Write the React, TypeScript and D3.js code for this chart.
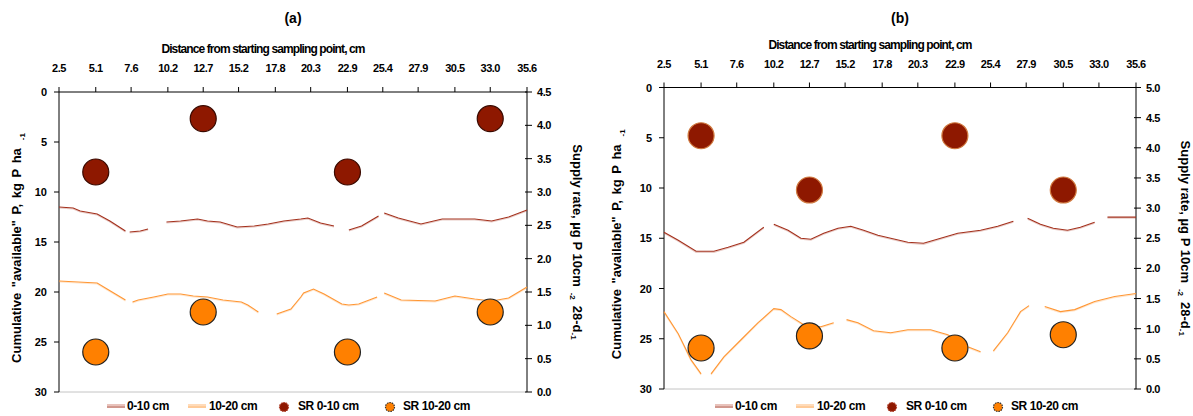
import React from 'react';
import * as d3 from 'd3';

// ---------- shared axis labels ----------
const xTickLabels = ['2.5', '5.1', '7.6', '10.2', '12.7', '15.2', '17.8', '20.3', '22.9', '25.4', '27.9', '30.5', '33.0', '35.6'];
const leftTicks = [0, 5, 10, 15, 20, 25, 30];
const rightTicksA = [0, 0.5, 1, 1.5, 2, 2.5, 3, 3.5, 4, 4.5];
const rightTicksB = [0, 0.5, 1, 1.5, 2, 2.5, 3, 3.5, 4, 4.5, 5];
const legendLabels = ['0-10 cm', '10-20 cm', 'SR 0-10 cm', 'SR 10-20 cm'];

// ---------- panel (a) ----------
const aDist010 = [2.5, 3.5, 4.0, 5.2, 6.1, 7.2, 7.35, 7.5, 8.25, 8.8, 9.5, 10.1, 11.1, 12.3, 13.0, 13.9, 15.1, 16.3, 17.3, 18.4, 19.6, 20.1, 21.0, 21.95, 22.5, 23.0, 23.9, 25.1, 25.3, 25.5, 26.5, 28.1, 29.6, 31.9, 33.1, 34.3, 35.6];
const aCum010 = [11.5, 11.6, 11.9, 12.2, 12.9, 13.9, null, 14.0, 13.9, 13.7, null, 13.0, 12.9, 12.7, 12.9, 13.0, 13.5, 13.4, 13.2, 12.9, 12.7, 12.6, 13.1, 13.4, null, 13.8, 13.4, 12.4, null, 12.1, 12.6, 13.2, 12.7, 12.7, 12.9, 12.5, 11.8];
const aDist1020 = [2.5, 5.2, 5.9, 7.2, 7.45, 7.7, 8.1, 9.2, 10.2, 11.1, 12.0, 13.0, 14.1, 15.4, 15.85, 16.6, 17.2, 17.9, 18.9, 19.6, 19.8, 20.5, 21.25, 22.5, 23.0, 23.7, 25.0, 25.25, 25.5, 26.7, 29.1, 30.5, 31.9, 33.1, 34.3, 35.6];
const aCum1020 = [18.9, 19.1, 19.7, 20.8, null, 21.0, 20.8, 20.5, 20.2, 20.2, 20.4, 20.5, 20.8, 21.0, 21.3, 22.0, null, 22.2, 21.7, 20.5, 20.1, 19.7, 20.2, 21.2, 21.3, 21.2, 20.5, null, 20.1, 20.8, 20.9, 20.4, 20.7, 20.9, 20.6, 19.5];
const aSRDist = [5.1, 12.7, 22.9, 33.0];
const aSR010 = [3.3, 4.1, 3.3, 4.1];
const aSR1020 = [0.6, 1.2, 0.6, 1.2];

// ---------- panel (b) ----------
const bDist010 = [2.5, 3.5, 4.75, 6.0, 7.0, 8.1, 9.5, 9.8, 10.2, 11.2, 12.1, 12.8, 13.7, 14.7, 15.6, 16.5, 17.5, 18.4, 19.6, 20.7, 21.9, 23.1, 24.7, 25.9, 27.0, 27.5, 28.0, 28.9, 29.8, 30.8, 31.7, 32.7, 33.1, 33.6, 35.6];
const bCum010 = [14.4, 15.2, 16.3, 16.3, 15.9, 15.4, 13.9, null, 13.6, 14.2, 15.0, 15.1, 14.5, 14.0, 13.8, 14.2, 14.7, 15.0, 15.4, 15.5, 15.0, 14.5, 14.2, 13.8, 13.3, null, 13.0, 13.6, 14.0, 14.2, 13.9, 13.4, null, 12.9, 12.9];
const bDist1020 = [2.5, 3.5, 4.4, 5.1, 5.4, 5.8, 6.7, 7.9, 9.1, 10.2, 10.7, 11.4, 12.3, 13.5, 14.4, 14.8, 15.3, 16.1, 17.2, 18.4, 19.6, 21.2, 22.4, 23.8, 24.7, 25.1, 25.6, 26.6, 27.5, 28.1, 28.6, 29.2, 30.3, 31.3, 32.7, 34.1, 35.6];
const bCum1020 = [22.3, 24.5, 27.1, 28.5, null, 28.5, 26.8, 25.1, 23.4, 22.0, 22.1, 22.8, 23.6, 23.8, 23.4, null, 23.1, 23.4, 24.2, 24.4, 24.1, 24.1, 24.6, 25.8, 26.3, null, 26.2, 24.4, 22.3, 21.7, null, 21.8, 22.3, 22.1, 21.3, 20.8, 20.5];
const bSRDist = [5.1, 12.7, 22.9, 30.5];
const bSR010 = [4.2, 3.3, 4.2, 3.3];
const bSR1020 = [0.68, 0.88, 0.68, 0.9];

const FONT = '"Liberation Sans", Arial, Helvetica, sans-serif';
const C_DARK = '#8E1800';
const C_LINE1 = '#A3301C';
const C_ORANGE = '#FF8000';
const C_LINE2 = '#FF9633';

type PanelProps = {
  label: string;
  left: number; right: number; top: number; bottom: number;
  rightMax: number; rightTicks: number[];
  dist010: number[]; cum010: (number | null)[];
  dist1020: number[]; cum1020: (number | null)[];
  srDist: number[]; sr010: number[]; sr1020: number[];
  leftLabelX: number; rightLabelX: number;
  tickLabelY: number; titleY: number; legendX: number;
  darkStroke: string;
};

function Panel(p: PanelProps) {
  const x = d3.scaleLinear().domain([2.5, 35.6]).range([p.left, p.right]);
  const yL = d3.scaleLinear().domain([0, 30]).range([p.top, p.bottom]);
  const yR = d3.scaleLinear().domain([0, p.rightMax]).range([p.bottom, p.top]);

  const mk = (dist: number[], vals: (number | null)[]) =>
    d3.line<number>()
      .defined((_, i) => vals[i] !== null)
      .x((d) => x(d))
      .y((_, i) => yL(vals[i] as number))(dist) || '';

  const cx = (p.left + p.right) / 2;
  const legY = 406;
  const lx = p.legendX;
  const tickFmt = d3.format('.1f');

  return (
    <g fontFamily={FONT} fontWeight="bold" fill="#000">
      <text x={cx} y={23} fontSize={14} textAnchor="middle">{p.label}</text>
      <text x={cx - 30} y={p.titleY} fontSize={12} textAnchor="middle" letterSpacing={-0.9}>
        Distance from starting sampling point, cm
      </text>
      {/* top axis */}
      <line x1={p.left} x2={p.right} y1={p.top} y2={p.top} stroke="#000" />
      {xTickLabels.map((t) => (
        <g key={t}>
          <line x1={x(+t)} x2={x(+t)} y1={p.top - 5} y2={p.top} stroke="#000" />
          <text x={x(+t)} y={p.tickLabelY} fontSize={11} textAnchor="middle" letterSpacing={-0.5}>{t}</text>
        </g>
      ))}
      {/* bottom line */}
      <line x1={p.left} x2={p.right} y1={p.bottom} y2={p.bottom} stroke="#C4C4C4" />
      {/* left axis */}
      <line x1={p.left} x2={p.left} y1={p.top} y2={p.bottom} stroke="#000" />
      {leftTicks.map((t) => (
        <g key={t}>
          <line x1={p.left - 5} x2={p.left} y1={yL(t)} y2={yL(t)} stroke="#000" />
          <text x={p.left - 12} y={yL(t) + 4} fontSize={11} textAnchor="end">{t}</text>
        </g>
      ))}
      {/* right axis */}
      <line x1={p.right} x2={p.right} y1={p.top} y2={p.bottom} stroke="#000" />
      {p.rightTicks.map((t) => (
        <g key={t}>
          <line x1={p.right - 2} x2={p.right + 5} y1={yR(t)} y2={yR(t)} stroke="#000" />
          <text x={p.right + 10} y={yR(t) + 4} fontSize={11} letterSpacing={-0.4}>{tickFmt(t)}</text>
        </g>
      ))}
      {/* axis titles */}
      <text transform={`translate(${p.leftLabelX},${(p.top + p.bottom) / 2 + 6}) rotate(-90)`} fontSize={13} textAnchor="middle" wordSpacing={2}>
        Cumulative "available" P, kg P ha
        <tspan fontSize={8} dx={8} dy={4}>-1</tspan>
      </text>
      <text transform={`translate(${p.rightLabelX},${(p.top + p.bottom) / 2}) rotate(90)`} fontSize={13} textAnchor="middle">
        Supply rate, µg P 10cm
        <tspan fontSize={8} dx={6} dy={3}>-2</tspan>
        <tspan dx={6} dy={-3}>28-d</tspan>
        <tspan fontSize={8} dy={2}>-1</tspan>
      </text>
      {/* lines */}
      <path d={mk(p.dist010, p.cum010)} fill="none" stroke={C_LINE1} strokeWidth={1.2} strokeOpacity={0.25} transform="translate(0,1)" />
      <path d={mk(p.dist010, p.cum010)} fill="none" stroke={C_LINE1} strokeWidth={1.1} />
      <path d={mk(p.dist1020, p.cum1020)} fill="none" stroke={C_LINE2} strokeWidth={1.2} strokeOpacity={0.25} transform="translate(0,1)" />
      <path d={mk(p.dist1020, p.cum1020)} fill="none" stroke={C_LINE2} strokeWidth={1.1} />
      {/* supply rate points */}
      {p.srDist.map((d, i) => (
        <circle key={'d' + i} cx={x(d)} cy={yR(p.sr010[i])} r={13} fill={C_DARK} stroke={p.darkStroke} strokeWidth={1.2} />
      ))}
      {p.srDist.map((d, i) => (
        <circle key={'o' + i} cx={x(d)} cy={yR(p.sr1020[i])} r={13} fill={C_ORANGE} stroke="#222" strokeWidth={1.2} />
      ))}
      {/* legend */}
      <g fontSize={12} letterSpacing={-0.4}>
        <line x1={lx} x2={lx + 18} y1={legY - 1} y2={legY - 1} stroke="#D99A8E" strokeWidth={1.2} />
        <line x1={lx} x2={lx + 18} y1={legY + 1} y2={legY + 1} stroke={C_LINE1} strokeWidth={1} />
        <text x={lx + 20} y={legY + 4}>{legendLabels[0]}</text>
        <line x1={lx + 81} x2={lx + 99} y1={legY - 1} y2={legY - 1} stroke="#FFC48A" strokeWidth={1.2} />
        <line x1={lx + 81} x2={lx + 99} y1={legY + 1} y2={legY + 1} stroke={C_LINE2} strokeWidth={1} />
        <text x={lx + 102} y={legY + 4}>{legendLabels[1]}</text>
        <circle cx={lx + 177} cy={legY + 1} r={4.5} fill={C_DARK} stroke="#B0402A" strokeWidth={1.2} strokeDasharray="1.5 1" />
        <text x={lx + 191} y={legY + 4}>{legendLabels[2]}</text>
        <circle cx={lx + 283} cy={legY + 1} r={4.5} fill={C_ORANGE} stroke="#333" strokeWidth={1.2} strokeDasharray="1.5 1" />
        <text x={lx + 296} y={legY + 4}>{legendLabels[3]}</text>
      </g>
    </g>
  );
}

export default function App() {
  return (
    <svg width={1193} height={416} style={{ position: 'absolute', left: 0, top: 0, background: '#fff' }}>
      <rect width={1193} height={416} fill="#fff" />
      <Panel
        label="(a)" left={59} right={527} top={92} bottom={392}
        rightMax={4.5} rightTicks={rightTicksA}
        dist010={aDist010} cum010={aCum010} dist1020={aDist1020} cum1020={aCum1020}
        srDist={aSRDist} sr010={aSR010} sr1020={aSR1020}
        leftLabelX={21} rightLabelX={573} tickLabelY={72} titleY={53} legendX={107}
        darkStroke="#3A0A00"
      />
      <Panel
        label="(b)" left={664} right={1136} top={87.5} bottom={389}
        rightMax={5} rightTicks={rightTicksB}
        dist010={bDist010} cum010={bCum010} dist1020={bDist1020} cum1020={bCum1020}
        srDist={bSRDist} sr010={bSR010} sr1020={bSR1020}
        leftLabelX={621} rightLabelX={1181} tickLabelY={68} titleY={49} legendX={715}
        darkStroke="#D07A40"
      />
    </svg>
  );
}
